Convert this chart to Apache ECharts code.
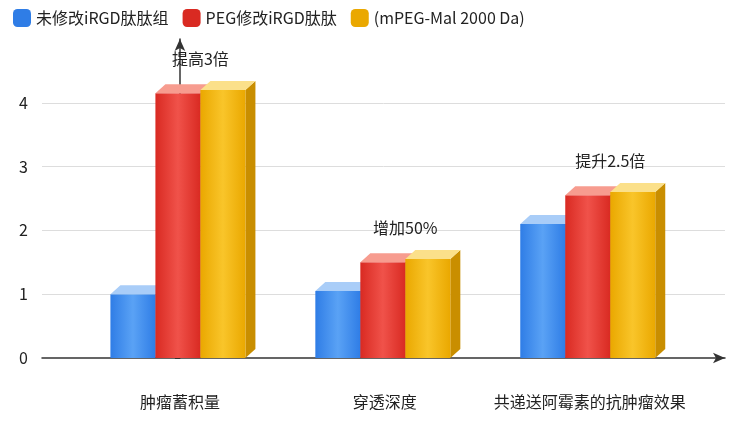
<!DOCTYPE html>
<html>
<head>
<meta charset="utf-8">
<script src="https://cdn.jsdelivr.net/npm/echarts@6/dist/echarts.min.js"></script>
<style>html,body{margin:0;padding:0;background:#fff}#chart{width:739px;height:434px}</style>
</head>
<body>
<div id="chart"></div>
<script>
const categories = ["肿瘤蓄积量", "穿透深度", "共递送阿霉素的抗肿瘤效果"];
const seriesNames = ["未修改iRGD肽肽组", "PEG修改iRGD肽肽", "(mPEG-Mal 2000 Da)"];
const blueValues = [1.0, 1.05, 2.1];
const redValues = [4.15, 1.5, 2.55];
const yellowValues = [4.2, 1.55, 2.6];
const notes = ["提高3倍", "增加50%", "提升2.5倍"];
const colors = [
  ["#5aa2f5", "#2f7de6", "#a9cdf8", "#1f63c4"],
  ["#f0524a", "#d92a22", "#f79c8f", "#b81c16"],
  ["#f9c52a", "#eaa800", "#fbe08a", "#c98e00"]
];

const barW = 45, dx = 10, dy = 9;

function makeRender(idx) {
  return function (params, api) {
    const cat = api.value(0), v = api.value(1);
    const top = api.coord([cat, v]);
    const base = api.coord([cat, 0]);
    const x = top[0] - 1.5 * barW + idx * barW - 2;
    const y = top[1], b = base[1], w = barW;
    const c = colors[idx];
    const children = [
      { type: "polygon", shape: { points: [[x + w, y], [x + w + dx, y - dy], [x + w + dx, b - dy], [x + w, b]] }, style: { fill: c[3] } },
      { type: "rect", shape: { x: x, y: y, width: w, height: b - y },
        style: { fill: new echarts.graphic.LinearGradient(0, 0, 1, 0, [{ offset: 0, color: c[1] }, { offset: 0.5, color: c[0] }, { offset: 1, color: c[1] }]) } },
      { type: "polygon", shape: { points: [[x, y], [x + dx, y - dy], [x + w + dx, y - dy], [x + w, y]] }, style: { fill: c[2] } }
    ];
    if (idx === 1) {
      children.push({ type: "text", style: { text: notes[params.dataIndex], x: x + w, y: api.coord([cat, yellowValues[params.dataIndex]])[1] - dy - 14,
        textAlign: "center", textVerticalAlign: "bottom", fontSize: 16, fill: "#222", fontFamily: "Noto Sans CJK SC" } });
    }
    return { type: "group", children: children };
  };
}

const allValues = [blueValues, redValues, yellowValues];
const chart = echarts.init(document.getElementById("chart"));
chart.setOption({
  animation: false,
  textStyle: { fontFamily: "Noto Sans CJK SC" },
  legend: {
    top: 4, left: 8, itemWidth: 18, itemHeight: 18, itemGap: 14,
    textStyle: { fontSize: 16, color: "#222" },
    data: seriesNames.map((n, i) => ({ name: n, icon: "roundRect", itemStyle: { color: colors[i][1] } }))
  },
  grid: { left: 42, right: 14, top: 39, bottom: 76 },
  xAxis: {
    type: "value", min: -0.673, max: 2.66,
    axisLine: { onZero: false, lineStyle: { color: "#333", width: 1.5 }, symbol: ["none", "arrow"], symbolSize: [8, 12] },
    axisTick: { show: false },
    splitLine: { show: false },
    axisLabel: { fontSize: 16, color: "#222", margin: 36, customValues: [0, 1, 2], formatter: v => categories[Math.round(v)] }
  },
  yAxis: {
    type: "value", min: 0, max: 5, interval: 1,
    axisLine: { show: true, lineStyle: { color: "#333", width: 1.5 }, symbol: ["none", "arrow"], symbolSize: [8, 12] },
    axisLabel: { fontSize: 16, color: "#222", showMaxLabel: false, margin: 14 },
    splitLine: { lineStyle: { color: "#ddd" }, showMaxLine: false, showMinLine: false }
  },
  series: allValues.map((vals, i) => ({
    type: "custom", name: seriesNames[i], renderItem: makeRender(i),
    itemStyle: { color: colors[i][1] },
    encode: { x: 0, y: 1 },
    data: vals.map((v, k) => [k, v]),
    z: 2 + i
  }))
});
</script>
</body>
</html>
